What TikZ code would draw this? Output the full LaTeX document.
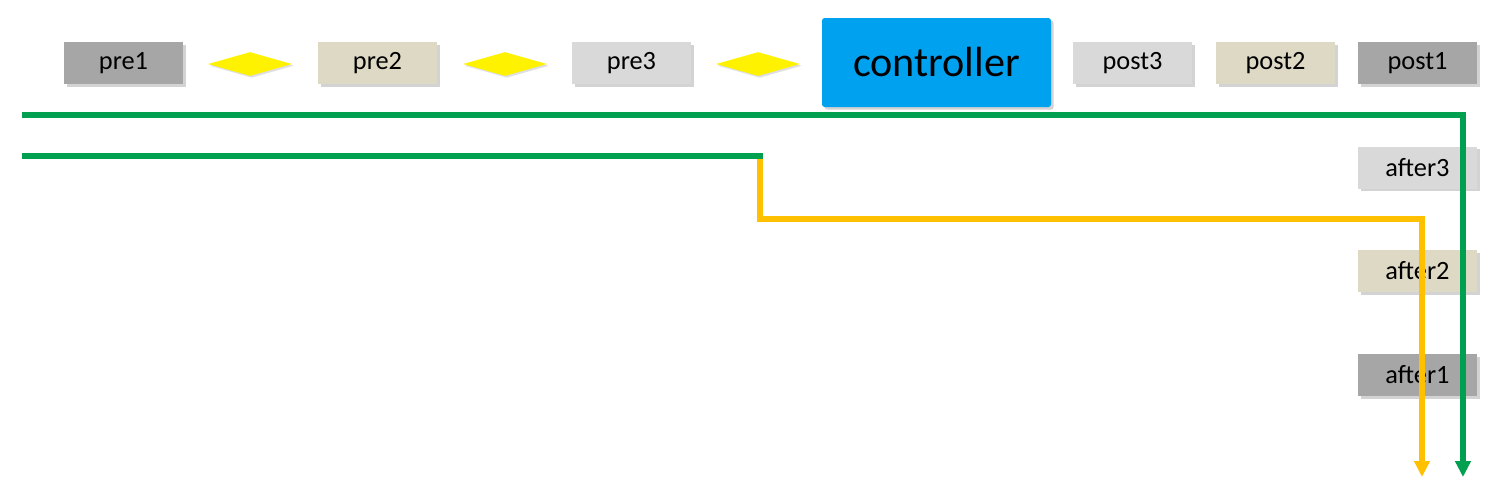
\documentclass[tikz,border=0pt]{standalone}
\usepackage{fontspec}
\setmainfont{Carlito}
\usetikzlibrary{shapes.geometric,shadows,arrows.meta}
\definecolor{cgray}{HTML}{A6A6A6}
\definecolor{cbeige}{HTML}{DDD9C4}
\definecolor{clight}{HTML}{D9D9D9}
\definecolor{cblue}{HTML}{00A2F0}
\definecolor{cgreen}{HTML}{00A050}
\definecolor{corange}{HTML}{FFC000}
\definecolor{cyellow}{HTML}{FFF200}
\tikzset{
  px/.style={x=0.02cm,y=-0.02cm},
  box/.style={rectangle,minimum width=119*0.02cm,minimum height=42*0.02cm,inner sep=0pt,
    font=\fontsize{15}{18}\selectfont,drop shadow={shadow xshift=1.5pt,shadow yshift=-1.5pt,opacity=0.35}},
  dia/.style={diamond,fill=cyellow,aspect=3.5,minimum width=84*0.02cm,minimum height=24*0.02cm,inner sep=0pt,
    drop shadow={shadow xshift=1pt,shadow yshift=-1pt,opacity=0.25}},
  ctrl/.style={rectangle,rounded corners=1.5pt,fill=cblue,minimum width=229*0.02cm,minimum height=89*0.02cm,inner sep=0pt,
    font=\fontsize{24}{28}\selectfont,drop shadow={shadow xshift=1.5pt,shadow yshift=-1.5pt,opacity=0.35}},
  flow/.style={line width=2.9pt,line cap=butt,line join=miter},
  tip/.style={-{Triangle[width=8.5pt,length=9pt]}}
}
\begin{document}
\begin{tikzpicture}[px]
\useasboundingbox (0,0) rectangle (1489,485);
\node[box,fill=cgray]  (pre1)  at (123.5,63) {pre1};
\node[dia]             (d1)    at (250,64) {};
\node[box,fill=cbeige] (pre2)  at (377.5,63) {pre2};
\node[dia]             (d2)    at (505,64) {};
\node[box,fill=clight] (pre3)  at (631.5,63) {pre3};
\node[dia]             (d3)    at (758,64) {};
\node[ctrl]            (ctrl)  at (936.5,62.5) {controller};
\node[box,fill=clight] (post3) at (1132.5,63) {post3};
\node[box,fill=cbeige] (post2) at (1275.5,63) {post2};
\node[box,fill=cgray]  (post1) at (1417.5,63) {post1};
\node[box,fill=clight] (after3) at (1417.5,167.5) {after3};
\node[box,fill=cbeige] (after2) at (1417.5,271) {after2};
\node[box,fill=cgray]  (after1) at (1417.5,375) {after1};
\coordinate (g1s) at (22,115);
\coordinate (g1c) at (1463,115);
\coordinate (g1e) at (1463,477);
\coordinate (g2s) at (22,156);
\coordinate (g2c) at (760,156);
\coordinate (o1) at (760,219);
\coordinate (o2) at (1422,219);
\coordinate (o3) at (1422,477);
\draw[flow,cgreen,tip] (g1s) -- (g1c) -- (g1e);
\draw[flow,corange,tip] (g2c) -- (o1) -- (o2) -- (o3);
\draw[flow,cgreen] (g2s) -- ([xshift=1.45pt]g2c);
\end{tikzpicture}
\end{document}
